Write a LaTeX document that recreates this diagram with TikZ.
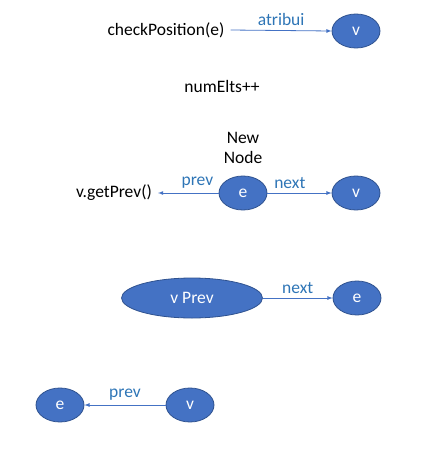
\documentclass[tikz,border=0pt]{standalone}
\usepackage{fontspec}
\setmainfont{Carlito}
\usepackage{xcolor}
\usetikzlibrary{shapes.geometric}

\definecolor{nodeblue}{HTML}{4472C4}
\definecolor{rimblue}{HTML}{2F528F}
\definecolor{labelblue}{HTML}{2E75B6}

\tikzset{
    elt/.style={ellipse, draw=rimblue, fill=nodeblue, text=white, line width=0.8pt,
        minimum width=48pt, minimum height=34pt, inner sep=0pt},
    txt/.style={inner sep=6pt},
    lbl/.style={text=labelblue, inner sep=1pt},
    link/.style={->, draw=nodeblue, line width=0.8pt},
}

\begin{document}
\begin{tikzpicture}[x=1pt, y=-1pt, >=latex, font=\fontsize{17.5}{20}\selectfont]
                \useasboundingbox (0,0) rectangle (433,451);

                % step 1
                \node[txt] (check) at (166,30) {checkPosition(e)};
                \node[elt] (v1) at (356,31) {v};
                \draw[link] (check.east) -- (v1.west) node[midway, above=3pt, lbl] {atribui};

                % step 2
                \node[txt] (count) at (222,86) {numElts++};

                % step 3
                \node[align=center, inner sep=0pt] (newnode) at (243,148) {New\\Node};
                \node[elt] (e1) at (243,193) {e};
                \node[elt] (v2) at (356,193) {v};
                \node[txt] (getprev) at (114,193) {v.getPrev()};
                \draw[link] (e1.west) -- (getprev.east) node[pos=0.35, above=3pt, lbl] {prev};
                \draw[link] (e1.east) -- (v2.west) node[pos=0.35, above=3pt, lbl] {next};

                % step 4
                \node[elt, minimum width=141pt, minimum height=40pt] (vprev) at (192,298) {v Prev};
                \node[elt] (e2) at (357,298) {e};
                \draw[link] (vprev.east) -- (e2.west) node[midway, above=3pt, lbl] {next};

                % step 5
                \node[elt] (e3) at (60,405) {e};
                \node[elt] (v3) at (190,405) {v};
                \draw[link] (v3.west) -- (e3.east) node[midway, above=3pt, lbl] {prev};
            \end{tikzpicture}
\end{document}
